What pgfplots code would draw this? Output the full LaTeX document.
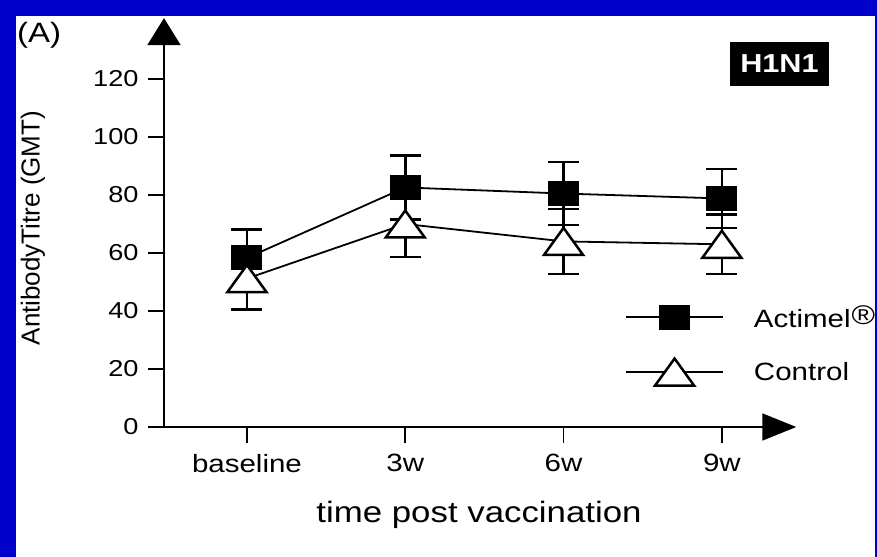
\documentclass[border=0pt]{standalone}
\usepackage{pgfplots}
\pgfplotsset{compat=1.18}
\usepackage{fontspec}
\setmainfont{Liberation Sans}[FakeStretch=1.18]
\newfontfamily\ylabfont{Liberation Sans}
\usetikzlibrary{arrows.meta}
\definecolor{frameblue}{HTML}{0000CC}

% filled rectangle (Actimel) and open flat triangle (Control)
\pgfdeclareplotmark{rsq}{%
  \pgfpathrectangle{\pgfpoint{-15.5bp}{-12.5bp}}{\pgfpoint{31bp}{25bp}}%
  \pgfusepathqfill}
\pgfdeclareplotmark{rtri}{%
  \pgfpathmoveto{\pgfpoint{-19.5bp}{-13.5bp}}%
  \pgfpathlineto{\pgfpoint{19.5bp}{-13.5bp}}%
  \pgfpathlineto{\pgfpoint{0bp}{13.5bp}}%
  \pgfpathclose
  \pgfusepathqfillstroke}

\begin{document}
\begin{tikzpicture}
\useasboundingbox (0bp,0bp) rectangle (877bp,557bp);
\fill[frameblue] (0bp,0bp) rectangle (877bp,557bp);
\fill[white] (16bp,0bp) rectangle (875bp,541bp);

\begin{axis}[
    at={(164bp,130bp)}, anchor=south west,
    x=158.3bp, y=2.9bp,
    xmin=-0.524, xmax=3.47, ymin=0, ymax=141,
    clip=false,
    axis lines=left,
    x axis line style={line width=1.8bp, -{Triangle[width=27bp,length=34bp]}},
    y axis line style={line width=1.8bp, -{Triangle[width=33bp,length=27bp]}},
    tick align=outside,
    major tick length=16bp,
    tick style={line width=1.8bp, black},
    xtick={0,1,2,3}, xticklabels={baseline,3w,6w,9w},
    ytick={0,20,...,120},
    /pgf/number format/assume math mode=true,
    yticklabel style={font=\fontsize{23bp}{27bp}\selectfont, xshift=-6bp},
    xticklabel style={font=\fontsize{25bp}{30bp}\selectfont, yshift=-8bp},
    xlabel={time post vaccination},
    ylabel={AntibodyTitre (GMT)},
    every axis x label/.style={at={(axis cs:1.466,-32.8)}, anchor=base,
        font=\fontsize{29.5bp}{34bp}\selectfont},
    every axis y label/.style={at={(axis cs:-1.352,68.6)}, rotate=90, anchor=center,
        font=\ylabfont\fontsize{26bp}{30bp}\selectfont},
    legend image code/.code={
        \draw[mark repeat=2, mark phase=2] plot coordinates {(0bp,0bp) (48.5bp,0bp) (97bp,0bp)};},
    legend cell align=left,
    legend style={draw=none, fill=none, inner sep=0pt,
        at={(axis cs:2.388,42.3)}, anchor=north west,
        nodes={inner sep=0pt},
        row sep=29bp,
        /tikz/every odd column/.append style={column sep=30bp},
        font=\fontsize{25bp}{29bp}\selectfont},
  ]

  \addplot[black, line width=1.8bp, mark=rsq, mark options={fill=black, draw=none},
      error bars/.cd, y dir=both, y explicit,
      error bar style={line width=2.5bp, black},
      error mark options={rotate=90, mark size=15.5bp, line width=2.5bp, black}]
    coordinates {
      (0,58.3) +- (0,9.8)
      (1,82.6) +- (0,11.0)
      (2,80.5) +- (0,10.9)
      (3,78.8) +- (0,10.2)
    };
  \addlegendentry{Actimel\hspace{1bp}\raisebox{3bp}{\fontsize{27bp}{30bp}\selectfont ®}}

  \addplot[black, line width=1.8bp, mark=rtri, mark options={fill=white, draw=black, line width=2.5bp},
      error bars/.cd, y dir=both, y explicit,
      error bar style={line width=2.5bp, black},
      error mark options={rotate=90, mark size=15.5bp, line width=2.5bp, black}]
    coordinates {
      (0,51.2) +- (0,10.7)
      (1,70.0) +- (0,11.4)
      (2,64.0) +- (0,11.2)
      (3,63.0) +- (0,10.3)
    };
  \addlegendentry{Control}
\end{axis}

\node[anchor=base west, inner sep=0pt, font=\fontsize{28bp}{32bp}\selectfont]
  at (17bp,514bp) {(A)};
\node[fill=black, text=white, inner sep=0pt, minimum width=99bp, minimum height=44bp,
  font=\bfseries\fontsize{26bp}{30bp}\selectfont] at (779.5bp,493bp) {H1N1};
\end{tikzpicture}
\end{document}
